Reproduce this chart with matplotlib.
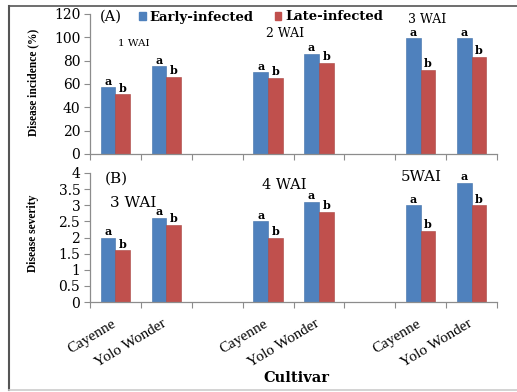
import matplotlib
matplotlib.use("Agg")
import matplotlib.pyplot as plt
from matplotlib.lines import Line2D
from matplotlib.patches import Patch
import numpy as np

plt.rcParams['font.family'] = ['DejaVu Serif', 'DejaVu Sans']

slots = [0, 1, 3, 4, 6, 7]
tick_labels = ["Cayenne", "Yolo Wonder"] * 3

incidence_early = [57, 75, 70, 86, 99, 99]
incidence_late = [51, 66, 65, 78, 72, 83]
severity_early = [2.0, 2.6, 2.5, 3.1, 3.0, 3.7]
severity_late = [1.6, 2.4, 2.0, 2.8, 2.2, 3.0]
letters_early = ["a"] * 6
letters_late = ["b"] * 6

wai_top = ["1 WAI", "2 WAI", "3 WAI"]
wai_bottom = ["3 WAI", "4 WAI", "5WAI"]

blue = "#4F81BD"
red = "#C0504D"
axcol = "#8c8c8c"

W, H = 517, 392
fig = plt.figure(figsize=(W / 100, H / 100), dpi=100)
ax1 = fig.add_axes([90 / W, 1 - 154 / H, 407 / W, 140 / H])
ax2 = fig.add_axes([90 / W, 1 - 302 / H, 407 / W, 129 / H])

w = 0.29
x = np.array(slots, dtype=float) + 0.5

def style(ax, ymax, step):
    ax.set_xlim(0, 8)
    ax.set_ylim(0, ymax)
    vals = np.arange(0, ymax + step / 2, step)
    ax.set_yticks(vals)
    ax.set_yticklabels([f"{v:g}" for v in vals], fontsize=10)
    ax.set_xticks(np.arange(0, 9))
    for s in ["top", "right"]:
        ax.spines[s].set_visible(False)
    for s in ["left", "bottom"]:
        ax.spines[s].set_color(axcol)
        ax.spines[s].set_linewidth(0.9)
    ax.tick_params(axis="both", color=axcol, length=4, width=0.8, pad=3)
    ax.tick_params(axis="x", labelbottom=False)

def bars(ax, early, late):
    ax.bar(x - w / 2, early, w, color=blue, edgecolor="#3f6fa8", linewidth=0.4)
    ax.bar(x + w / 2, late, w, color=red, edgecolor="#a84440", linewidth=0.4)
    for xi, e, l, le, ll in zip(x, early, late, letters_early, letters_late):
        ax.annotate(le, (xi - w / 2, e), xytext=(0, 0.5), textcoords="offset points",
                    ha="center", va="bottom", fontsize=8, fontweight="bold")
        ax.annotate(ll, (xi + w / 2, l), xytext=(0, 0.5), textcoords="offset points",
                    ha="center", va="bottom", fontsize=8, fontweight="bold")

style(ax1, 120, 20)
bars(ax1, incidence_early, incidence_late)
style(ax2, 4, 0.5)
bars(ax2, severity_early, severity_late)

# y labels
fig.text(33 / W, 1 - 82 / H, "Disease incidence (%)", rotation=90, ha="center", va="center",
         fontsize=8.3, fontweight="bold", family=["Liberation Serif", "DejaVu Serif"])
fig.text(33 / W, 1 - 233 / H, "Disease severity", rotation=90, ha="center", va="center",
         fontsize=8.3, fontweight="bold", family=["Liberation Serif", "DejaVu Serif"])

# x tick labels
for xi, lab in zip(x, tick_labels):
    ax2.annotate(lab, (xi, 0), xytext=(-3, -11), textcoords="offset points", rotation=31,
                 ha="right", va="top", rotation_mode="anchor", fontsize=11,
                 family=["Liberation Serif", "DejaVu Serif"], annotation_clip=False)

fig.text(296 / W, 1 - 378 / H, "Cultivar", ha="center", va="center", fontsize=10.5, fontweight="bold")

# panel labels and WAI annotations
ax1.text(0.41, 117.4, "(A)", fontsize=10.5, va="center", ha="center")
ax1.text(0.86, 95, wai_top[0], fontsize=7.5, ha="center", va="center")
ax1.text(3.83, 103, wai_top[1], fontsize=9, ha="center", va="center")
ax1.text(6.62, 115, wai_top[2], fontsize=9, ha="center", va="center")

ax2.text(0.52, 3.84, "(B)", fontsize=11, va="center", ha="center")
ax2.text(0.855, 3.07, wai_bottom[0], fontsize=11, ha="center", va="center")
ax2.text(3.82, 3.62, wai_bottom[1], fontsize=10.5, ha="center", va="center")
ax2.text(6.52, 3.88, wai_bottom[2], fontsize=10.8, ha="center", va="center")

handles = [Patch(color=blue), Patch(color=red)]
fig.legend(handles, ["Early-infected", "Late-infected"], ncol=2, loc="center left",
           bbox_to_anchor=(139 / W, 1 - 17 / H), frameon=False, handlelength=0.5, handleheight=0.5,
           handletextpad=0.3, columnspacing=1.6, borderpad=0, borderaxespad=0,
           prop={"weight": "bold", "size": 9.5})

# outer frame
fig.add_artist(Line2D([9 / W, 9 / W], [1 - 6 / H, 1 - 390 / H], color="#555555", lw=1.5,
                      transform=fig.transFigure))
fig.add_artist(Line2D([9 / W, 1], [1 - 6 / H, 1 - 6 / H], color="#555555", lw=1.2,
                      transform=fig.transFigure))
fig.add_artist(Line2D([9 / W, 1], [1 - 390 / H, 1 - 390 / H], color="#cccccc", lw=1.2,
                      transform=fig.transFigure))

fig.savefig("out.png", dpi=100)
